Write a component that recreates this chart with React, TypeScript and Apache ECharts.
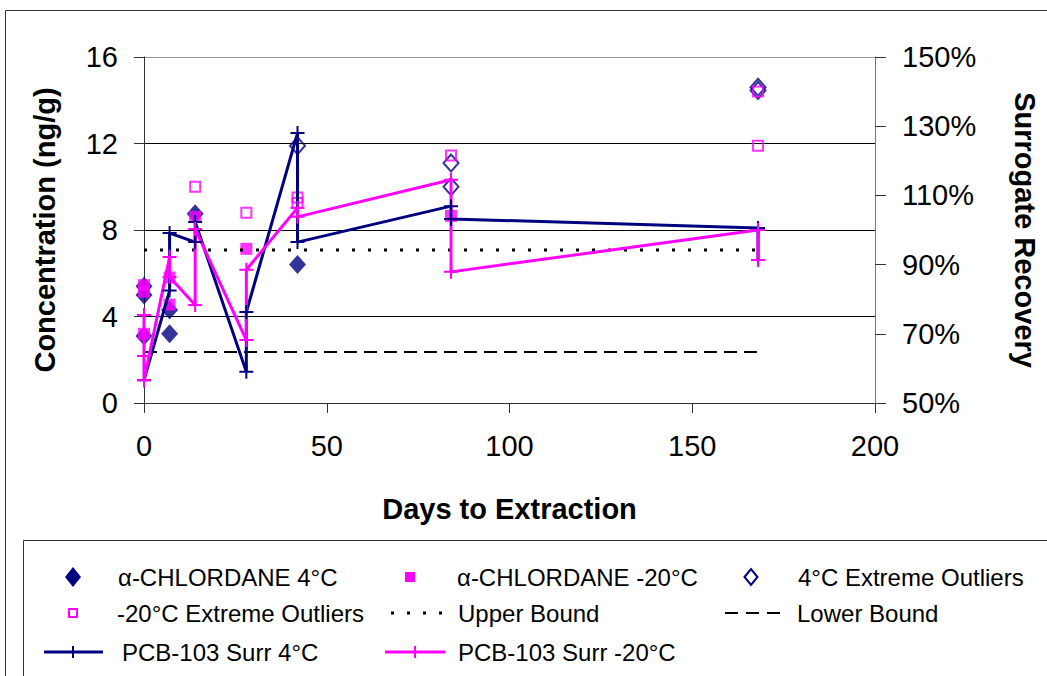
import React, { useEffect, useRef } from "react";
import * as echarts from "echarts";

// Concentration (ng/g) vs days
const chlor4C: number[][] = [[0, 5.4], [0, 5.0], [0, 3.1], [7, 4.3], [7, 3.2], [14, 8.75], [42, 6.4]];
const chlorM20C: number[][] = [[0, 5.45], [0, 5.15], [0, 3.2], [7, 5.8], [7, 4.55], [14, 8.6], [28, 7.13], [84, 8.65]];
const outl4C: number[][] = [[42, 11.9], [84, 11.1], [84, 10.0], [168, 14.6], [168, 14.45]];
const outlM20C: number[][] = [[14, 10.0], [28, 8.8], [42, 9.5], [42, 9.25], [84, 11.45], [168, 14.4], [168, 11.9]];
const upperBound: number[][] = [[0, 7.08], [168, 7.08]];
const lowerBound: number[][] = [[0, 2.36], [168, 2.36]];
// Surrogate recovery (%) vs days
const surr4C: number[][] = [[0, 56.6], [7, 82.5], [7, 99.1], [14, 96.5], [14, 102.3], [28, 59], [28, 76.3], [42, 128], [42, 96.5], [84, 106.9], [84, 103.2], [168, 100.6], [168, 91.3]];
const surrM20C: number[][] = [[0, 75.4], [0, 63.6], [0, 56.6], [7, 92.2], [7, 86.4], [14, 78.3], [14, 100.3], [28, 68.2], [28, 88.5], [42, 106.4], [42, 103.8], [84, 114.5], [84, 87.9], [168, 100], [168, 91.3]];

const names = [
  "α-CHLORDANE 4°C",
  "α-CHLORDANE -20°C",
  "4°C Extreme Outliers",
  "-20°C Extreme Outliers",
  "Upper Bound",
  "Lower Bound",
  "PCB-103 Surr 4°C",
  "PCB-103 Surr -20°C",
];

const NAVY = "#000080";
const MAG = "#FF00FF";
const FONT = "Liberation Sans, Arial, sans-serif";
const PLUS = "path://M6,0L6,12M0,6L12,6";
const TICK_FS = 29;
const TITLE_FS = 29;

export default function App() {
  const ref = useRef<HTMLDivElement>(null);
  useEffect(() => {
    const chart = echarts.init(ref.current!, null, { renderer: "svg", width: 1047, height: 676 });
    const lt = { fontFamily: FONT, fontSize: 24, fill: "#000" };
    const plus = (cx: number, cy: number, color: string) => [
      { type: "line", silent: true, shape: { x1: cx, y1: cy - 6, x2: cx, y2: cy + 6 }, style: { stroke: color, lineWidth: 2 } },
    ];
    const option: any = {
      animation: false,
      backgroundColor: "#fff",
      textStyle: { fontFamily: FONT },
      grid: { left: 144, right: 163, top: 57, bottom: 273 },
      xAxis: {
        type: "value",
        min: 0,
        max: 200,
        interval: 50,
        axisLine: { show: true, onZero: false, lineStyle: { color: "#333", width: 1 } },
        axisTick: { show: true, inside: false, length: 10, lineStyle: { color: "#333" } },
        axisLabel: { fontSize: TICK_FS, color: "#000", margin: 28, fontFamily: FONT },
        splitLine: { show: false },
        name: "Days to Extraction",
        nameLocation: "middle",
        nameGap: 91,
        nameTextStyle: { fontWeight: "bold", fontSize: TITLE_FS, color: "#000", fontFamily: FONT },
      },
      yAxis: [
        {
          type: "value",
          position: "left",
          min: 0,
          max: 16,
          interval: 4,
          axisLine: { show: true, lineStyle: { color: "#333", width: 1 } },
          axisTick: { show: true, inside: false, length: 10, lineStyle: { color: "#333" } },
          axisLabel: { fontSize: TICK_FS, color: "#000", margin: 26, fontFamily: FONT },
          splitLine: { show: true, lineStyle: { color: ["#000", "#000", "#000", "#000", "#999"], width: 1 } },
          name: "Concentration (ng/g)",
          nameLocation: "middle",
          nameRotate: 90,
          nameGap: 85,
          nameTextStyle: { fontWeight: "bold", fontSize: TITLE_FS, color: "#000", fontFamily: FONT },
        },
        {
          type: "value",
          position: "right",
          min: 50,
          max: 150,
          interval: 20,
          axisLine: { show: true, lineStyle: { color: "#777", width: 1 } },
          axisTick: { show: true, inside: false, length: 11, lineStyle: { color: "#333" } },
          axisLabel: { fontSize: TICK_FS, color: "#000", margin: 27, fontFamily: FONT, formatter: "{value}%" },
          splitLine: { show: false },
          name: "Surrogate Recovery",
          nameLocation: "middle",
          nameRotate: -90,
          nameGap: 135,
          nameTextStyle: { fontWeight: "bold", fontSize: TITLE_FS, color: "#000", fontFamily: FONT },
        },
      ],
      series: [
        { name: names[0], type: "scatter", data: chlor4C, symbol: "diamond", symbolSize: [17, 19], itemStyle: { color: NAVY } },
        { name: names[1], type: "scatter", data: chlorM20C, symbol: "rect", symbolSize: 12, itemStyle: { color: MAG } },
        { name: names[2], type: "scatter", data: outl4C, symbol: "diamond", symbolSize: [15, 17], itemStyle: { color: "rgba(0,0,0,0)", borderColor: NAVY, borderWidth: 2 } },
        { name: names[3], type: "scatter", data: outlM20C, symbol: "rect", symbolSize: 10, itemStyle: { color: "rgba(0,0,0,0)", borderColor: MAG, borderWidth: 2 } },
        { name: names[4], type: "line", data: upperBound, showSymbol: false, symbol: "none", lineStyle: { color: "#000", width: 3, type: [3, 13] } },
        { name: names[5], type: "line", data: lowerBound, showSymbol: false, symbol: "none", lineStyle: { color: "#000", width: 2, type: [13, 7] } },
        { name: names[6], type: "line", yAxisIndex: 1, data: surr4C, symbol: PLUS, symbolSize: 14, showAllSymbol: true, lineStyle: { color: NAVY, width: 3 }, itemStyle: { color: NAVY, borderColor: NAVY, borderWidth: 2 } },
        { name: names[7], type: "line", yAxisIndex: 1, data: surrM20C, symbol: PLUS, symbolSize: 14, showAllSymbol: true, lineStyle: { color: MAG, width: 3 }, itemStyle: { color: MAG, borderColor: MAG, borderWidth: 2 } },
      ],
      graphic: [
        { type: "rect", silent: true, z: -10, shape: { x: 5.5, y: 10.5, width: 1100, height: 800 }, style: { fill: "none", stroke: "#333", lineWidth: 1 } },
        { type: "rect", silent: true, shape: { x: 23.5, y: 540.5, width: 1100, height: 200 }, style: { fill: "#fff", stroke: "#333", lineWidth: 1 } },
        // row 1
        { type: "polygon", silent: true, shape: { points: [[65, 577], [73, 567], [81, 577], [73, 587]] }, style: { fill: NAVY } },
        { type: "text", silent: true, x: 118, y: 577, style: { ...lt, text: names[0], verticalAlign: "middle" } },
        { type: "rect", silent: true, shape: { x: 405, y: 572, width: 10, height: 10 }, style: { fill: MAG } },
        { type: "text", silent: true, x: 457, y: 577, style: { ...lt, text: names[1], verticalAlign: "middle" } },
        { type: "polygon", silent: true, shape: { points: [[744.5, 577], [751, 569], [757.5, 577], [751, 585]] }, style: { fill: "none", stroke: NAVY, lineWidth: 2 } },
        { type: "text", silent: true, x: 798, y: 577, style: { ...lt, text: names[2], verticalAlign: "middle" } },
        // row 2
        { type: "rect", silent: true, shape: { x: 69, y: 609, width: 8, height: 8 }, style: { fill: "none", stroke: MAG, lineWidth: 2 } },
        { type: "text", silent: true, x: 117, y: 613, style: { ...lt, text: names[3], verticalAlign: "middle" } },
        { type: "line", silent: true, shape: { x1: 391, y1: 613, x2: 443, y2: 613 }, style: { stroke: "#000", lineWidth: 3, lineDash: [3, 13] } },
        { type: "text", silent: true, x: 458, y: 613, style: { ...lt, text: names[4], verticalAlign: "middle" } },
        { type: "line", silent: true, shape: { x1: 725, y1: 613, x2: 781, y2: 613 }, style: { stroke: "#000", lineWidth: 2, lineDash: [13, 8] } },
        { type: "text", silent: true, x: 797, y: 613, style: { ...lt, text: names[5], verticalAlign: "middle" } },
        // row 3
        { type: "line", silent: true, shape: { x1: 44, y1: 652, x2: 103, y2: 652 }, style: { stroke: NAVY, lineWidth: 3 } },
        ...plus(73, 652, NAVY),
        { type: "text", silent: true, x: 122, y: 652, style: { ...lt, text: names[6], verticalAlign: "middle" } },
        { type: "line", silent: true, shape: { x1: 385, y1: 652, x2: 445, y2: 652 }, style: { stroke: MAG, lineWidth: 3 } },
        ...plus(415, 652, MAG),
        { type: "text", silent: true, x: 458, y: 652, style: { ...lt, text: names[7], verticalAlign: "middle" } },
      ],
    };
    chart.setOption(option);
    return () => chart.dispose();
  }, []);
  return (
    <div
      ref={ref}
      style={{ position: "fixed", left: 0, top: 0, width: 1047, height: 676, background: "#fff" }}
    />
  );
}
